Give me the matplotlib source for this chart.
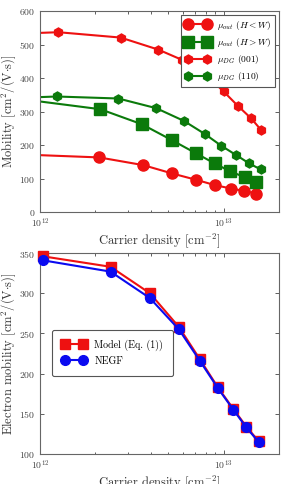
import matplotlib
matplotlib.use("Agg")
import matplotlib.pyplot as plt
from matplotlib.ticker import LogLocator, NullFormatter

plt.rcParams['font.family'] = 'serif'
plt.rcParams['font.serif'] = ['cmr10', 'DejaVu Serif']
plt.rcParams['mathtext.fontset'] = 'cm'
plt.rcParams['axes.formatter.use_mathtext'] = True

# top panel data
n_out_hw = [7e11, 2.1e12, 3.65e12, 5.25e12, 7.1e12, 9.0e12, 1.1e13, 1.29e13, 1.51e13]
mu_out_hw = [173, 163, 140, 115, 96, 80, 70, 63, 55]

n_out_wh = [7e11, 2.13e12, 3.59e12, 5.21e12, 7.03e12, 8.94e12, 1.08e13, 1.3e13, 1.5e13]
mu_out_wh = [341, 307, 262, 215, 176, 145, 122, 104, 90]

n_dg001 = [7e11, 1.26e12, 2.75e12, 4.41e12, 5.9e12, 8.0e12, 1.0e13, 1.19e13, 1.41e13, 1.6e13]
mu_dg001 = [532, 537, 521, 485, 455, 410, 360, 318, 280, 245]

n_dg110 = [7e11, 1.23e12, 2.67e12, 4.3e12, 6.08e12, 7.9e12, 9.7e12, 1.17e13, 1.37e13, 1.59e13]
mu_dg110 = [340, 345, 339, 310, 272, 233, 198, 170, 146, 127]

# bottom panel data
n_bot = [1.04e12, 2.42e12, 3.97e12, 5.71e12, 7.42e12, 9.3e12, 1.13e13, 1.33e13, 1.55e13]
mu_model = [346, 333, 300, 258, 218, 183, 156, 134, 116]
mu_negf = [341, 327, 294, 255, 216, 182, 155, 133, 115]

red = '#ee1111'
green = '#0b7a0b'
blue = '#0a0af0'

fig = plt.figure(figsize=(2.82, 4.84), dpi=100)
ax1 = fig.add_axes([0.142, 0.562, 0.847, 0.415])
ax2 = fig.add_axes([0.142, 0.062, 0.847, 0.415])


def style(ax):
    ax.set_xscale('log')
    ax.set_xlim(1e12, 2e13)
    ax.xaxis.set_major_locator(LogLocator(base=10))
    ax.xaxis.set_minor_locator(LogLocator(base=10, subs=range(2, 10)))
    ax.xaxis.set_minor_formatter(NullFormatter())
    ax.tick_params(which='both', direction='in', top=True, right=True,
                   labelsize=7, colors='#444444', width=0.6)
    ax.tick_params(which='major', length=3)
    ax.tick_params(which='minor', length=1.8)
    for s in ax.spines.values():
        s.set_color('#666666')
        s.set_linewidth(0.8)
    ax.set_xlabel(r'Carrier density [cm$^{-2}$]', fontsize=9, color='#333333', labelpad=1)


style(ax1)
ax1.plot(n_out_hw, mu_out_hw, '-o', color=red, ms=8, lw=1.5, label=r'$\mu_{out}\ (H<W)$')
ax1.plot(n_out_wh, mu_out_wh, '-s', color=green, ms=8, lw=1.5, label=r'$\mu_{out}\ (H>W)$')
ax1.plot(n_dg001, mu_dg001, '-h', color=red, ms=6.5, lw=1.5, label=r'$\mu_{DG}$ (001)')
ax1.plot(n_dg110, mu_dg110, '-h', color=green, ms=6.5, lw=1.5, label=r'$\mu_{DG}$ (110)')
ax1.set_ylim(0, 600)
ax1.set_yticks(range(0, 601, 100))
ax1.set_ylabel(r'Mobility [cm$^2$/(V$\cdot$s)]', fontsize=9, color='#333333', labelpad=0.5)
leg1 = ax1.legend(loc='upper right', numpoints=2, fontsize=6.8, framealpha=1,
                  edgecolor='#555555', fancybox=False, borderaxespad=0.4,
                  handlelength=2.6, labelspacing=0.45)
leg1.get_frame().set_linewidth(0.8)

style(ax2)
ax2.plot(n_bot, mu_model, '-s', color=red, ms=7, lw=1.5, label='Model (Eq. (1))', clip_on=False, zorder=3)
ax2.plot(n_bot, mu_negf, '-o', color=blue, ms=7, lw=1.5, label='NEGF', clip_on=False, zorder=4)
ax2.set_ylim(100, 350)
ax2.set_yticks(range(100, 351, 50))
ax2.set_ylabel(r'Electron mobility [cm$^2$/(V$\cdot$s)]', fontsize=9, color='#333333', labelpad=0.5)
leg2 = ax2.legend(loc='lower left', bbox_to_anchor=(0.03, 0.365), numpoints=2, fontsize=7.2,
                  framealpha=1, edgecolor='#555555', fancybox=True, handlelength=2.4,
                  borderpad=1.0)
leg2.get_frame().set_linewidth(0.8)

fig.savefig('out.png', dpi=100)
